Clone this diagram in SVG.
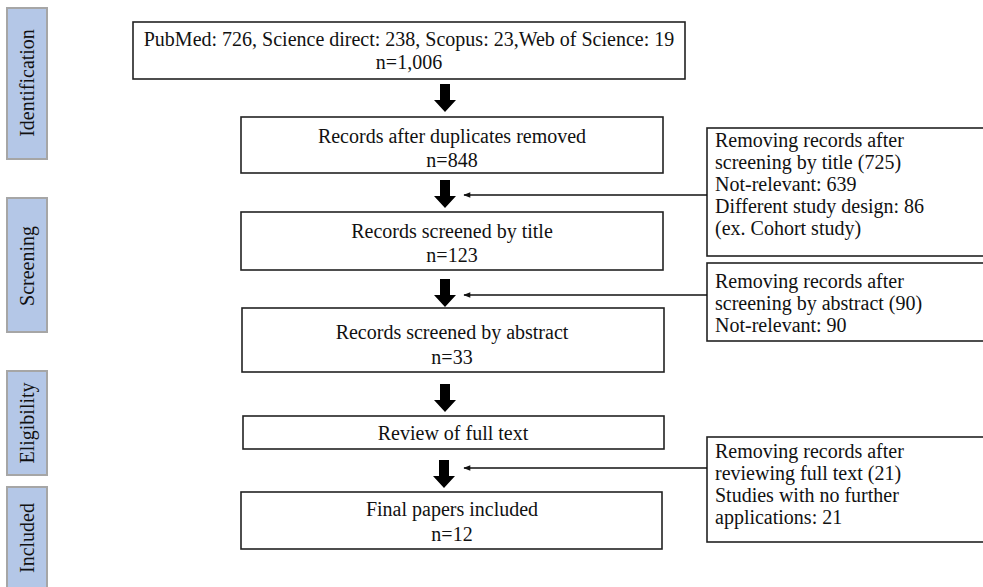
<svg xmlns="http://www.w3.org/2000/svg" width="983" height="587" viewBox="0 0 983 587">
<style>
text{font-family:"Liberation Serif","Times New Roman",serif;font-size:20px;fill:#111}
.c{text-anchor:middle}
.box{fill:#fff;stroke:#222;stroke-width:1.6}
.phase{fill:#b4c7e7;stroke:#a6a6a6;stroke-width:2}
.blk{fill:#000}
.ln{stroke:#111;stroke-width:1.3;fill:none}
</style>
<defs>
<marker id="ah" viewBox="0 0 10 10" refX="9" refY="5" markerWidth="9" markerHeight="7" markerUnits="userSpaceOnUse" orient="auto">
<path d="M0,1 L10,5 L0,9 Z" fill="#111"/>
</marker>
</defs>
<rect width="983" height="587" fill="#fff"/>
<g id="phase-identification"><rect class="phase" x="7" y="8" width="40" height="151"/><text class="c" transform="translate(34,83) rotate(-90)">Identification</text></g>
<g id="phase-screening"><rect class="phase" x="7" y="198" width="40" height="134"/><text class="c" transform="translate(34,266) rotate(-90)">Screening</text></g>
<g id="phase-eligibility"><rect class="phase" x="7" y="371" width="40" height="104"/><text class="c" transform="translate(34,423) rotate(-90)">Eligibility</text></g>
<g id="phase-included"><rect class="phase" x="7" y="487" width="40" height="110"/><text class="c" transform="translate(34,538) rotate(-90)">Included</text></g>
<g id="n1"><rect class="box" x="133" y="22" width="552" height="57"/><text class="c" x="409" y="46">PubMed: 726, Science direct: 238, Scopus: 23,Web of Science: 19</text><text class="c" x="409" y="69">n=1,006</text></g>
<g id="n2"><rect class="box" x="241" y="117" width="422" height="56"/><text class="c" x="452" y="143">Records after duplicates removed</text><text class="c" x="452" y="167">n=848</text></g>
<g id="n3"><rect class="box" x="241" y="212" width="422" height="58"/><text class="c" x="452" y="238">Records screened by title</text><text class="c" x="452" y="262">n=123</text></g>
<g id="n4"><rect class="box" x="242" y="308" width="422" height="64"/><text class="c" x="452" y="339">Records screened by abstract</text><text class="c" x="452" y="364">n=33</text></g>
<g id="n5"><rect class="box" x="243" y="416" width="421" height="33"/><text class="c" x="453" y="440">Review of full text</text></g>
<g id="n6"><rect class="box" x="241" y="492" width="421" height="57"/><text class="c" x="452" y="516">Final papers included</text><text class="c" x="452" y="541">n=12</text></g>
<g id="x1"><rect class="box" x="707" y="128" width="290" height="128"/><text x="715" y="147">Removing records after</text><text x="715" y="169">screening by title (725)</text><text x="715" y="191">Not-relevant: 639</text><text x="715" y="213">Different study design: 86</text><text x="715" y="235">(ex. Cohort study)</text></g>
<g id="x2"><rect class="box" x="707" y="263" width="290" height="78"/><text x="715" y="288">Removing records after</text><text x="715" y="310">screening by abstract (90)</text><text x="715" y="332">Not-relevant: 90</text></g>
<g id="x3"><rect class="box" x="707" y="437" width="290" height="105"/><text x="715" y="458">Removing records after</text><text x="715" y="480">reviewing full text (21)</text><text x="715" y="502">Studies with no further</text><text x="715" y="524">applications: 21</text></g>
<g id="connectors">
<path class="blk" d="M440,84 H450 V100 H456 L445,112 L434,100 H440 Z"/>
<path class="blk" d="M440,180 H450 V196 H456 L445,208 L434,196 H440 Z"/>
<path class="blk" d="M440,279 H450 V295 H456 L445,307 L434,295 H440 Z"/>
<path class="blk" d="M440,384 H450 V400 H456 L445,412 L434,400 H440 Z"/>
<path class="blk" d="M439,460 H449 V476 H455 L444,488 L433,476 H439 Z"/>
<line class="ln" x1="707" y1="195" x2="464" y2="195" marker-end="url(#ah)"/>
<line class="ln" x1="707" y1="295" x2="464" y2="295" marker-end="url(#ah)"/>
<line class="ln" x1="707" y1="468" x2="464" y2="468" marker-end="url(#ah)"/>
</g>
</svg>
